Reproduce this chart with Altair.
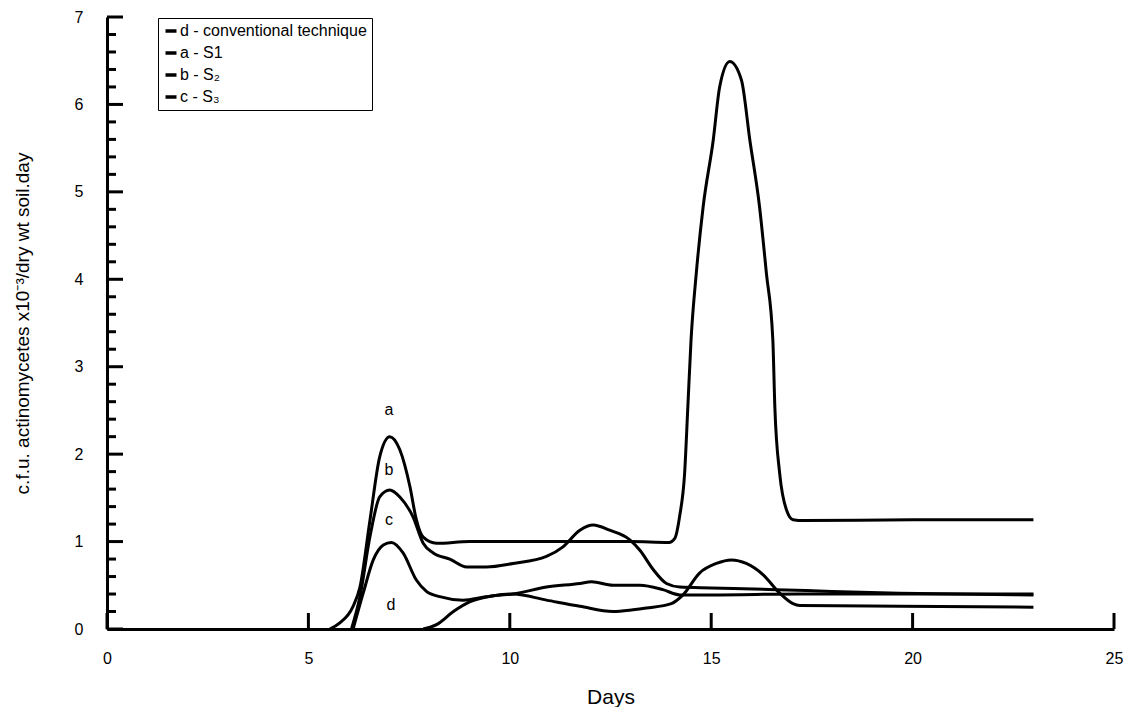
import altair as alt
import pandas as pd

# ---- data ----
series_names = ["d - conventional technique", "a - S1", "b - S₂", "c - S₃"]

a_x = [5.53, 5.78, 6.1, 6.28, 6.53, 6.77, 7.02, 7.27, 7.52, 7.68, 7.85, 8.18, 9.0, 11.0, 13.0,
       13.95, 14.1, 14.22, 14.34, 14.42, 14.5, 14.63, 14.8, 15.05, 15.21, 15.46, 15.75, 15.96,
       16.2, 16.37, 16.53, 16.58, 16.7, 16.87, 17.03, 17.3, 20.0, 23.0]
a_y = [0.0, 0.07, 0.25, 0.48, 1.25, 1.97, 2.2, 2.05, 1.63, 1.25, 1.05, 0.98, 1.0, 1.0, 1.0,
       0.99, 1.04, 1.3, 1.78, 2.54, 3.31, 4.07, 4.83, 5.59, 6.2, 6.49, 6.28, 5.59,
       4.83, 4.07, 3.31, 2.54, 1.78, 1.36, 1.25, 1.24, 1.25, 1.25]

b_x = [6.07, 6.28, 6.53, 6.77, 7.02, 7.27, 7.6, 7.85, 8.1, 8.51, 8.93, 9.42, 10.08, 10.91,
       11.32, 11.74, 12.07, 12.48, 12.98, 13.23, 13.56, 13.89, 14.22, 15.0, 16.62, 18.0,
       19.68, 23.0]
b_y = [0.0, 0.37, 1.06, 1.51, 1.59, 1.51, 1.28, 0.98, 0.87, 0.8, 0.71, 0.71, 0.75, 0.83,
       0.94, 1.13, 1.19, 1.13, 1.02, 0.9, 0.68, 0.52, 0.48, 0.47, 0.45, 0.43, 0.41, 0.39]

c_x = [6.11, 6.36, 6.61, 6.86, 7.06, 7.35, 7.68, 7.93, 8.26, 8.84, 9.42, 10.08, 10.91, 11.74,
       12.56, 13.06, 13.39, 14.01, 14.3, 14.71, 15.13, 15.5, 15.87, 16.29, 16.7, 17.03, 17.2,
       19.68, 23.0]
c_y = [0.0, 0.41, 0.79, 0.96, 0.99, 0.87, 0.56, 0.43, 0.37, 0.33, 0.37, 0.40, 0.33, 0.26,
       0.2, 0.22, 0.24, 0.29, 0.39, 0.64, 0.75, 0.79, 0.75, 0.62, 0.41, 0.29, 0.27,
       0.26, 0.25]

d_x = [7.85, 8.18, 8.6, 9.0, 9.59, 10.08, 10.91, 11.74, 12.03, 12.56, 13.23, 13.8, 14.22,
       15.0, 17.2, 20.0, 23.0]
d_y = [0.0, 0.05, 0.2, 0.31, 0.38, 0.40, 0.48, 0.52, 0.54, 0.5, 0.5, 0.45, 0.39,
       0.39, 0.40, 0.40, 0.40]

label_text = ["a", "b", "c", "d"]
label_x = [7.0, 7.0, 7.0, 7.05]
label_y = [2.5, 1.82, 1.25, 0.27]

x_tick_values = [0, 5, 10, 15, 20, 25]
y_major_values = [0, 1, 2, 3, 4, 5, 6, 7]
y_minor_values = [0.2, 0.4, 0.6, 0.8, 1.2, 1.4, 1.6, 1.8, 2.2, 2.4, 2.6, 2.8, 3.2, 3.4, 3.6,
                  3.8, 4.2, 4.4, 4.6, 4.8, 5.2, 5.4, 5.6, 5.8, 6.2, 6.4, 6.6, 6.8]

# ---- build tables ----
rows = []
for name, xs, ys in [(series_names[1], a_x, a_y), (series_names[2], b_x, b_y),
                     (series_names[3], c_x, c_y), (series_names[0], d_x, d_y)]:
    for xv, yv in zip(xs, ys):
        rows.append({"series": name, "day": xv, "value": yv})
df = pd.DataFrame(rows)
labels_df = pd.DataFrame({"t": label_text, "day": label_x, "value": label_y})
xt_df = pd.DataFrame({"v": x_tick_values})
ymaj_df = pd.DataFrame({"v": y_major_values})
ymin_df = pd.DataFrame({"v": y_minor_values})

FONT = "Liberation Sans"

x_scale = alt.Scale(domain=[0, 25], nice=False)
y_scale = alt.Scale(domain=[0, 7], nice=False)

x_enc = alt.X("day:Q", scale=x_scale, axis=alt.Axis(
    values=x_tick_values, format="d", labelFlush=False,
    ticks=False, tickSize=0, grid=False,
    domain=True, domainColor="black", domainWidth=3,
    labelFontSize=16, labelFont=FONT, labelColor="black", labelPadding=21,
    title="Days", titleFontSize=21, titleFont=FONT, titleFontWeight="normal",
    titleColor="black", titleY=74, titleBaseline="alphabetic"))
y_enc = alt.Y("value:Q", scale=y_scale, axis=alt.Axis(
    values=y_major_values, format="d", labelFlush=False,
    ticks=False, tickSize=0, grid=False,
    domain=True, domainColor="black", domainWidth=3,
    labelFontSize=16, labelFont=FONT, labelColor="black", labelPadding=24,
    title="c.f.u. actinomycetes x10⁻³/dry wt soil.day", titleFontSize=19,
    titleFont=FONT, titleFontWeight="normal", titleColor="black",
    titleX=-85, titleBaseline="middle"))

lines = alt.Chart(df).mark_line(interpolate="monotone", strokeWidth=3).encode(
    x=x_enc,
    y=y_enc,
    stroke=alt.Stroke("series:N",
                      scale=alt.Scale(domain=series_names, range=["black"] * 4),
                      legend=alt.Legend(
                          title=None, orient="none", legendX=51, legendY=1,
                          symbolType="stroke", symbolSize=121, symbolStrokeWidth=3.5,
                          symbolStrokeColor="black",
                          labelFontSize=16, labelFont=FONT, labelColor="black",
                          labelLimit=400, labelOffset=1, rowPadding=6, padding=5,
                          strokeColor="black", fillColor="white")),
    detail="series:N",
)

texts = alt.Chart(labels_df).mark_text(fontSize=16, font=FONT, color="black").encode(
    x=alt.X("day:Q", scale=x_scale),
    y=alt.Y("value:Q", scale=y_scale),
    text="t:N",
)

xticks = alt.Chart(xt_df).mark_rule(strokeWidth=3, color="black").encode(
    x=alt.X("v:Q", scale=x_scale), y=alt.value(612), y2=alt.value(596))
ymaj = alt.Chart(ymaj_df).mark_rule(strokeWidth=3, color="black").encode(
    y=alt.Y("v:Q", scale=y_scale), x=alt.value(0), x2=alt.value(16))
ymin = alt.Chart(ymin_df).mark_rule(strokeWidth=3, color="black").encode(
    y=alt.Y("v:Q", scale=y_scale), x=alt.value(0), x2=alt.value(9))

chart = alt.layer(lines, texts, xticks, ymaj, ymin).properties(
    width=1007, height=612,
    padding={"left": 99, "top": 9, "right": 9, "bottom": 78},
    autosize=alt.AutoSizeParams(type="none"),
    background="white",
).configure_view(stroke=None)

chart.save("out.html", embed_options={"renderer": "svg", "actions": False})
